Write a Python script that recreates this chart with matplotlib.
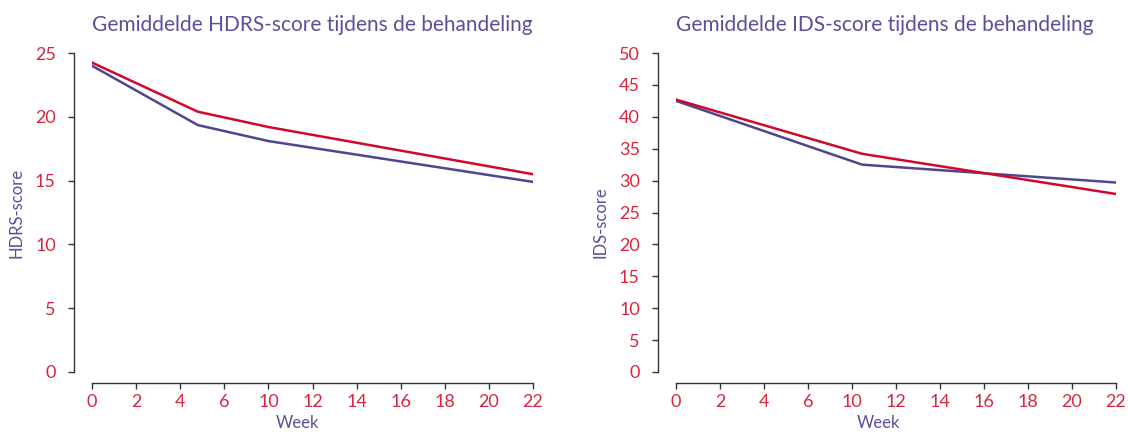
import matplotlib
matplotlib.use("Agg")
import matplotlib.pyplot as plt

# x-as: gelijk verdeelde posities met (niet-lineaire) weeklabels
week_labels = ["0", "2", "4", "6", "10", "12", "14", "16", "18", "20", "22"]

# HDRS (posities langs de x-as)
hdrs_x = [0, 2.4, 4, 10]
hdrs_paars = [24.0, 19.35, 18.1, 14.9]
hdrs_rood = [24.25, 20.4, 19.2, 15.5]

# IDS
ids_x = [0, 4.23, 10]
ids_paars = [42.5, 32.5, 29.7]
ids_rood = [42.7, 34.2, 27.9]

PAARS = "#4e4690"
PAARS_TXT = "#5a5099"
ROOD = "#d0082c"
ROOD_TXT = "#d8263f"

plt.rcParams["font.family"] = ["Lato", "DejaVu Sans"]

fig = plt.figure(figsize=(11.28, 4.32), dpi=100)
ax1 = fig.add_axes([92 / 1128, 60 / 432, 441 / 1128, 319 / 432])
ax2 = fig.add_axes([676 / 1128, 60 / 432, 440 / 1128, 319 / 432])


def opmaak(ax, ymax, ystep, titel, ylabel, ylabel_xy, xlabel_x):
    ax.set_xlim(0, 10)
    ax.set_ylim(0, ymax)
    for s in ["top", "right"]:
        ax.spines[s].set_visible(False)
    ax.spines["left"].set_position(("outward", 13))
    ax.spines["bottom"].set_position(("outward", 8))
    ax.spines["left"].set_bounds(0, ymax)
    ax.spines["bottom"].set_bounds(0, 10)
    for s in ["left", "bottom"]:
        ax.spines[s].set_color("#333333")
        ax.spines[s].set_linewidth(1.0)
    ax.set_xticks(range(len(week_labels)))
    ax.set_xticklabels(week_labels)
    ax.set_yticks(range(0, ymax + 1, ystep))
    ax.tick_params(axis="y", length=4, width=1, colors="#333333", pad=9,
                   labelsize=13, labelcolor=ROOD_TXT)
    ax.tick_params(axis="x", length=4, width=1, colors="#333333", pad=4,
                   labelsize=13, labelcolor=ROOD_TXT)
    ax.set_title(titel, loc="left", color=PAARS_TXT, fontsize=15, pad=16)
    ax.set_ylabel(ylabel, color=PAARS_TXT, fontsize=12)
    ax.yaxis.set_label_coords(*ylabel_xy)
    ax.set_xlabel("Week", color=PAARS_TXT, fontsize=12)
    ax.xaxis.set_label_coords(xlabel_x, -0.135)


ax1.plot(hdrs_x, hdrs_paars, color=PAARS, lw=1.8)
ax1.plot(hdrs_x, hdrs_rood, color=ROOD, lw=1.8)
opmaak(ax1, 25, 5, "Gemiddelde HDRS-score tijdens de behandeling",
       "HDRS-score", (-0.152, 0.5), 0.465)

ax2.plot(ids_x, ids_paars, color=PAARS, lw=1.8)
ax2.plot(ids_x, ids_rood, color=ROOD, lw=1.8)
opmaak(ax2, 50, 5, "Gemiddelde IDS-score tijdens de behandeling",
       "IDS-score", (-0.154, 0.47), 0.459)

fig.savefig("out.png", dpi=100)
